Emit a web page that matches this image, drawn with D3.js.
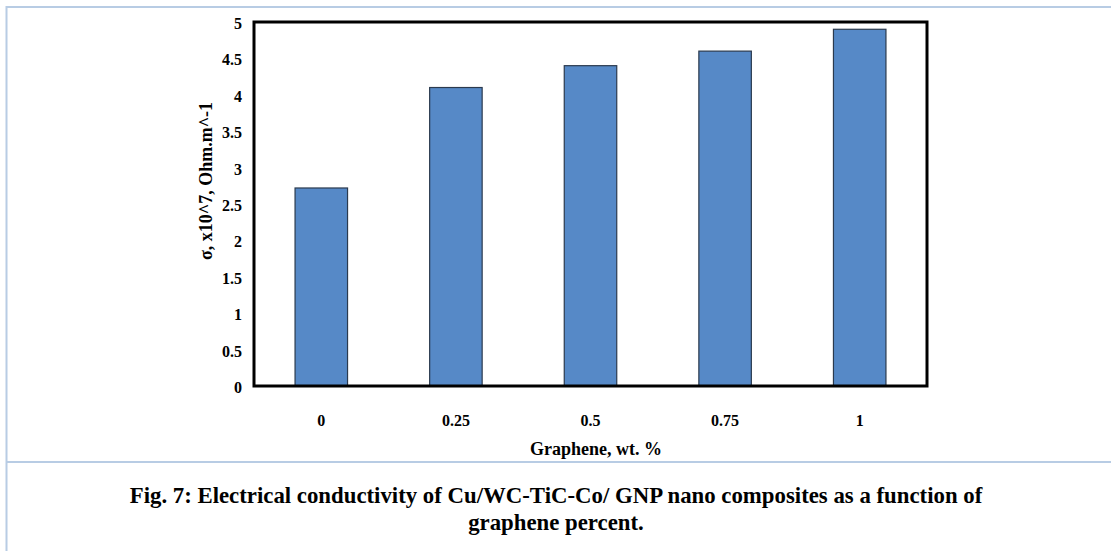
<!DOCTYPE html>
<html><head><meta charset="utf-8">
<script src="https://cdn.jsdelivr.net/npm/d3@7"></script>
<style>
html,body{margin:0;padding:0;background:#fff;}
svg{display:block;}
</style></head>
<body>
<svg id="chart" width="1111" height="551"></svg>
<script>
const categories = ["0", "0.25", "0.5", "0.75", "1"];
const values = [2.72, 4.10, 4.40, 4.60, 4.90];
const yTicks = [0, 0.5, 1, 1.5, 2, 2.5, 3, 3.5, 4, 4.5, 5];
const yTitle = "σ, x10^7, Ohm.m^-1";
const xTitle = "Graphene, wt. %";
const captionLines = ["Fig. 7: Electrical conductivity of Cu/WC-TiC-Co/ GNP nano composites as a function of", "graphene percent."];

(function(){
const svg = d3.select("#chart");
const font = "'Liberation Serif','Times New Roman',serif";
const pLeft = 254, pRight = 927, pTop = 22, pBottom = 386;

// outer frame lines
const frameColor = "#b8cce4";
svg.append("line").attr("x1",6.5).attr("x2",6.5).attr("y1",6).attr("y2",551).attr("stroke",frameColor).attr("stroke-width",2);
svg.append("line").attr("x1",6).attr("x2",1111).attr("y1",7).attr("y2",7).attr("stroke",frameColor).attr("stroke-width",2);
svg.append("line").attr("x1",6).attr("x2",1111).attr("y1",462).attr("y2",462).attr("stroke",frameColor).attr("stroke-width",2);

const x = d3.scaleBand().domain(categories).range([pLeft, pRight]).paddingInner(0.61).paddingOuter(0.305);
const y = d3.scaleLinear().domain([0, 5]).range([pBottom, pTop]);

// bars
svg.append("g").selectAll("rect").data(values).join("rect")
  .attr("x", (d,i) => x(categories[i]))
  .attr("y", d => y(d))
  .attr("width", x.bandwidth())
  .attr("height", d => y(0) - y(d))
  .attr("fill", "#5689c7")
  .attr("stroke", "#2b3a4e")
  .attr("stroke-width", 1.2);

// plot frame
svg.append("rect").attr("x", pLeft).attr("y", pTop).attr("width", pRight-pLeft).attr("height", pBottom-pTop)
  .attr("fill","none").attr("stroke","#000").attr("stroke-width",3);

// y axis
const yAxis = d3.axisLeft(y).tickValues(yTicks).tickSize(0).tickPadding(12).tickFormat(d => String(d));
const gy = svg.append("g").attr("transform", `translate(${pLeft},0)`).call(yAxis);
gy.select(".domain").remove();
gy.selectAll("text").attr("font-family", font).attr("font-weight","bold").attr("font-size", 16).attr("fill","#000").attr("dy","0.4em");

// x axis
const xAxis = d3.axisBottom(x).tickSize(0).tickPadding(29);
const gx = svg.append("g").attr("transform", `translate(0,${pBottom})`).call(xAxis);
gx.select(".domain").remove();
gx.selectAll("text").attr("font-family", font).attr("font-weight","bold").attr("font-size", 16).attr("fill","#000");

// axis titles
svg.append("text").attr("transform", "translate(212,181) rotate(-90)")
  .attr("text-anchor","middle").attr("font-family", font).attr("font-weight","bold").attr("font-size",18).text(yTitle);
svg.append("text").attr("x",596).attr("y",455).attr("text-anchor","middle")
  .attr("font-family", font).attr("font-weight","bold").attr("font-size",18).text(xTitle);

// caption
captionLines.forEach((t,i) => {
  svg.append("text").attr("x",556).attr("y",503 + i*27).attr("text-anchor","middle")
    .attr("font-family", font).attr("font-weight","bold").attr("font-size",22.8).text(t);
});
})();
</script>
</body></html>
